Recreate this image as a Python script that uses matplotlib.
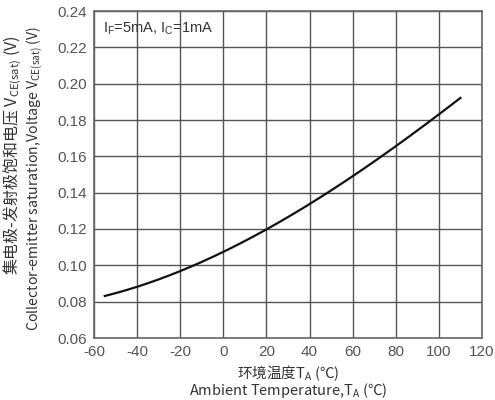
import matplotlib
matplotlib.use("Agg")
import matplotlib.pyplot as plt
import numpy as np

temps = [-55, -40, -20, 0, 20, 40, 60, 80, 100, 110]
vce = [0.083, 0.0887, 0.0965, 0.1068, 0.120, 0.1345, 0.149, 0.1655, 0.182, 0.193]
xticks = [-60, -40, -20, 0, 20, 40, 60, 80, 100, 120]
yticks = [0.06, 0.08, 0.10, 0.12, 0.14, 0.16, 0.18, 0.20, 0.22, 0.24]

plt.rcParams['font.family'] = ['Liberation Sans', 'Noto Sans CJK SC', 'DejaVu Sans']
plt.rcParams['mathtext.fontset'] = 'custom'
plt.rcParams['mathtext.rm'] = 'Liberation Sans'

fig = plt.figure(figsize=(4.95, 4.0), dpi=100)
ax = fig.add_axes([94/495, 1-338/400, (482-94)/495, (338-11)/400])

# smooth curve through read points
xs = np.linspace(temps[0], temps[-1], 200)
coef = np.polyfit(temps, vce, 3)
ax.plot(xs, np.polyval(coef, xs), color='#111111', lw=1.6)

ax.set_xlim(-60, 120)
ax.set_ylim(0.06, 0.24)
ax.set_xticks(xticks)
ax.set_yticks(yticks)
ax.set_xticklabels([str(t) for t in xticks])
ax.set_yticklabels([f"{t:.2f}" for t in yticks])
ax.grid(True, color='#555555', lw=1.0)
for s in ax.spines.values():
    s.set_color('#666666')
    s.set_linewidth(1.2)
ax.tick_params(axis='both', colors='#555555', labelcolor='#555555', labelsize=11, length=0, pad=5)

ax.text(-55.9, 0.2305, r'I$_\mathregular{F}$=5mA, I$_\mathregular{C}$=1mA',
        fontsize=10.5, color='#333333', va='center')

cjk = ['Noto Sans CJK SC', 'DejaVu Sans']
fig.text(288/495, 1-373/400, r'环境温度T$_\mathregular{A}$ (℃)', ha='center', va='center',
         fontsize=10.5, color='#333333', family=cjk)
fig.text(288/495, 1-391/400, r'Ambient Temperature,T$_\mathregular{A}$ (℃)', ha='center', va='center',
         fontsize=10.5, color='#333333', family=cjk)
fig.text(13/495, 1-155/400, r'集电极-发射极饱和电压 V$_\mathregular{CE(sat)}$ (V)', ha='center', va='center',
         rotation=90, fontsize=11.5, color='#333333', family=cjk)
fig.text(35/495, 1-178/400, r'Collector-emitter saturation,Voltage V$_\mathregular{CE(sat)}$ (V)', ha='center', va='center',
         rotation=90, fontsize=10.2, color='#333333', family=cjk)

fig.savefig('out.png', dpi=100)
